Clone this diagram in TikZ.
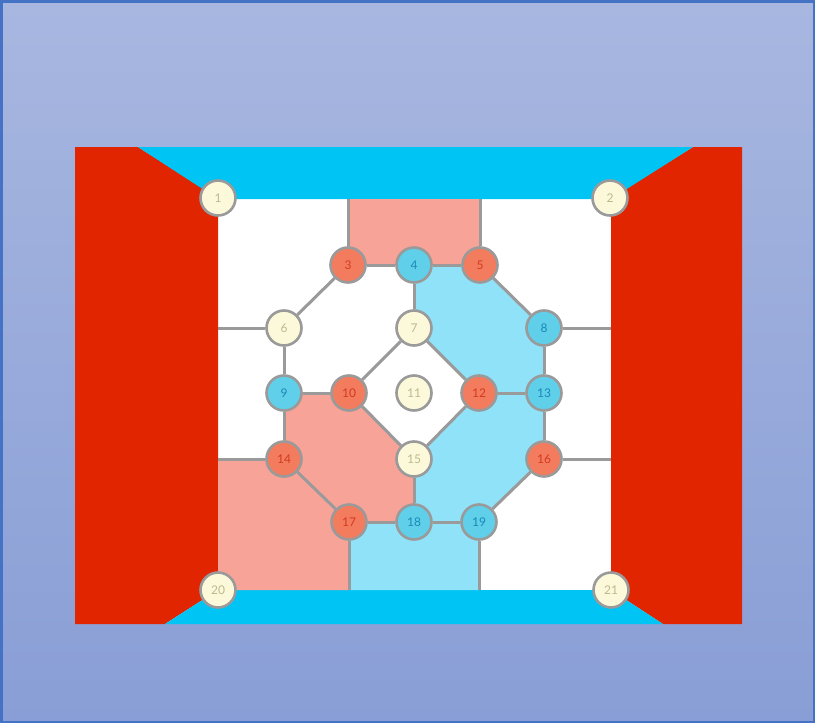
\documentclass[tikz,border=0pt]{standalone}
\usepackage{fontspec}
\setmainfont{Lato}
\definecolor{bgtop}{HTML}{A8B7E0}
\definecolor{bgbot}{HTML}{899ED6}
\definecolor{frameblue}{HTML}{4472C4}
\definecolor{wallred}{HTML}{E02500}
\definecolor{bandcyan}{HTML}{00C4F4}
\definecolor{pinkfill}{HTML}{F8A398}
\definecolor{bluefill}{HTML}{90E2F8}
\definecolor{edgegray}{HTML}{9A9A9A}
\definecolor{nodered}{HTML}{F47C5E}
\definecolor{textred}{HTML}{D23A20}
\definecolor{nodeblue}{HTML}{5FCFEA}
\definecolor{textblue}{HTML}{1A8AB5}
\definecolor{nodecream}{HTML}{FCF8DA}
\definecolor{textcream}{HTML}{BDB98F}
\tikzset{
  vnode/.style={circle, draw=edgegray, line width=2.6pt, minimum size=35pt, inner sep=0pt,
                font=\fontsize{12}{14}\selectfont},
  rnode/.style={vnode, fill=nodered, text=textred},
  bnode/.style={vnode, fill=nodeblue, text=textblue},
  cnode/.style={vnode, fill=nodecream, text=textcream},
  link/.style={draw=edgegray, line width=3pt},
}
\begin{document}
\begin{tikzpicture}[x=1pt,y=-1pt]
\useasboundingbox (0,0) rectangle (815,723);
% background
\shade[top color=bgtop, bottom color=bgbot] (0,0) rectangle (815,723);
\draw[frameblue, line width=2.5pt] (1.25,1.25) rectangle (813.75,721.75);
% positions
\coordinate (p1) at (218,198);
\coordinate (p2) at (610,198);
\coordinate (p20) at (218,590);
\coordinate (p21) at (611,590);
\coordinate (p3) at (348,265);
\coordinate (p4) at (414,265);
\coordinate (p5) at (480,265);
\coordinate (p6) at (284,328);
\coordinate (p7) at (414,328);
\coordinate (p8) at (544,328);
\coordinate (p9) at (284,393);
\coordinate (p10) at (349,393);
\coordinate (p11) at (414,393);
\coordinate (p12) at (479,393);
\coordinate (p13) at (544,393);
\coordinate (p14) at (284,459);
\coordinate (p15) at (414,459);
\coordinate (p16) at (544,459);
\coordinate (p17) at (349,522);
\coordinate (p18) at (414,522);
\coordinate (p19) at (479,522);
% free ends
\coordinate (t3) at (348,199);
\coordinate (t5) at (480,199);
\coordinate (l6) at (218,328);
\coordinate (r8) at (611,328);
\coordinate (l14) at (218,459);
\coordinate (r16) at (611,459);
\coordinate (b17) at (349,590);
\coordinate (b19) at (479,590);
% inner panel
\fill[white] (75,147) rectangle (742,624);
\fill[wallred] (75,147) -- (138,147) -- (218,198) -- (218,590) -- (165,624) -- (75,624) -- cycle;
\fill[wallred] (693,147) -- (742,147) -- (742,624) -- (663,624) -- (611,590) -- (611,198) -- cycle;
\fill[bandcyan] (138,147) -- (693,147) -- (611,199) -- (218,199) -- cycle;
\fill[bandcyan] (218,590) -- (611,590) -- (663,624) -- (165,624) -- cycle;
% coloured regions
\fill[pinkfill] (t3) -- (t5) -- (p5) -- (p3) -- cycle;
\fill[bluefill] (p4) -- (p5) -- (p8) -- (p16) -- (p19) -- (b19) -- (b17) -- (p17) -- (p18) -- (p15) -- (p12) -- (p7) -- cycle;
\fill[pinkfill] (p9) -- (p10) -- (p15) -- (p18) -- (p17) -- (b17) -- (218,590) -- (l14) -- (p14) -- cycle;
% nodes
\node[cnode] (n1) at (p1) {1};
\node[cnode] (n2) at (p2) {2};
\node[cnode] (n20) at (p20) {20};
\node[cnode] (n21) at (p21) {21};
\node[rnode] (n3) at (p3) {3};
\node[bnode] (n4) at (p4) {4};
\node[rnode] (n5) at (p5) {5};
\node[cnode] (n6) at (p6) {6};
\node[cnode] (n7) at (p7) {7};
\node[bnode] (n8) at (p8) {8};
\node[bnode] (n9) at (p9) {9};
\node[rnode] (n10) at (p10) {10};
\node[cnode] (n11) at (p11) {11};
\node[rnode] (n12) at (p12) {12};
\node[bnode] (n13) at (p13) {13};
\node[rnode] (n14) at (p14) {14};
\node[cnode] (n15) at (p15) {15};
\node[rnode] (n16) at (p16) {16};
\node[rnode] (n17) at (p17) {17};
\node[bnode] (n18) at (p18) {18};
\node[bnode] (n19) at (p19) {19};
% connectors
\path[link] (n3) -- (t3);
\path[link] (n3) -- (n4);
\path[link] (n4) -- (n5);
\path[link] (n5) -- (t5);
\path[link] (n3) -- (n6);
\path[link] (n4) -- (n7);
\path[link] (n5) -- (n8);
\path[link] (n6) -- (l6);
\path[link] (n8) -- (r8);
\path[link] (n6) -- (n9);
\path[link] (n7) -- (n10);
\path[link] (n7) -- (n12);
\path[link] (n8) -- (n13);
\path[link] (n9) -- (n10);
\path[link] (n12) -- (n13);
\path[link] (n9) -- (n14);
\path[link] (n10) -- (n15);
\path[link] (n12) -- (n15);
\path[link] (n13) -- (n16);
\path[link] (n14) -- (l14);
\path[link] (n16) -- (r16);
\path[link] (n14) -- (n17);
\path[link] (n15) -- (n18);
\path[link] (n16) -- (n19);
\path[link] (n17) -- (n18);
\path[link] (n18) -- (n19);
\path[link] (n17) -- (b17);
\path[link] (n19) -- (b19);
\end{tikzpicture}
\end{document}
